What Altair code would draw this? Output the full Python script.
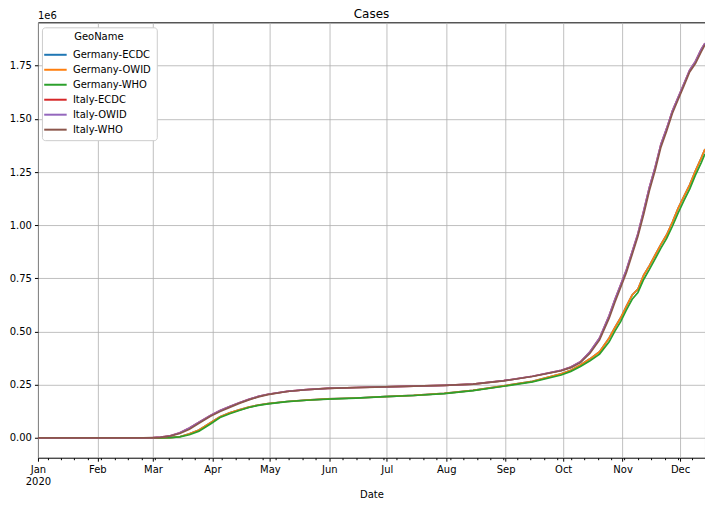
import altair as alt
import pandas as pd

dates = ["2020-01-01", "2020-01-31", "2020-02-15", "2020-02-25", "2020-03-01", "2020-03-05",
         "2020-03-10", "2020-03-15", "2020-03-20", "2020-03-25", "2020-03-31", "2020-04-05",
         "2020-04-10", "2020-04-15", "2020-04-20", "2020-04-25", "2020-04-30", "2020-05-10",
         "2020-05-20", "2020-05-31", "2020-06-15", "2020-06-30", "2020-07-15", "2020-07-31",
         "2020-08-15", "2020-08-31", "2020-09-15", "2020-09-30", "2020-10-05", "2020-10-10",
         "2020-10-15", "2020-10-20", "2020-10-25", "2020-10-28", "2020-10-31", "2020-11-03",
         "2020-11-06", "2020-11-09", "2020-11-12", "2020-11-15", "2020-11-18", "2020-11-21",
         "2020-11-24", "2020-11-27", "2020-11-30", "2020-12-03", "2020-12-06", "2020-12-09",
         "2020-12-12", "2020-12-14"]

germany_ecdc = [0, 5, 16, 18, 130, 480, 1600, 5800, 20000, 37300, 72000, 100000,
                118000, 132000, 145000, 155000, 161500, 171300, 177800, 183300, 187800, 194700,
                200200, 209700, 224000, 244800, 266000, 302000, 318000, 343000, 372000, 405000,
                470000, 519000, 565000, 620000, 672000, 700000, 765000, 810000, 860000, 910000,
                955000, 1015000, 1080000, 1135000, 1190000, 1255000, 1315000, 1358000]
germany_owid = [0, 5, 16, 18, 130, 480, 1600, 5800, 20000, 37300, 72000, 100000,
                118000, 132000, 145000, 155000, 161500, 171300, 177800, 183300, 187800, 194700,
                200200, 209700, 224000, 244800, 266000, 302000, 318000, 343000, 372000, 405000,
                470000, 519000, 565000, 620000, 672000, 700000, 765000, 810000, 860000, 910000,
                955000, 1015000, 1080000, 1135000, 1190000, 1255000, 1315000, 1358000]
germany_who = [0, 5, 16, 16, 117, 262, 1200, 4800, 15300, 32000, 66000, 96000,
               114000, 129000, 143000, 153000, 160000, 170500, 177200, 182800, 187400, 194200,
               199700, 208700, 222800, 243000, 263500, 296000, 313000, 336000, 363000, 394000,
               452000, 502000, 547000, 602000, 652000, 684000, 745000, 792000, 842000, 892000,
               938000, 995000, 1058000, 1115000, 1170000, 1235000, 1293000, 1336000]
italy_ecdc = [0, 2, 3, 322, 1694, 3858, 10149, 24747, 47021, 74386, 105792, 128948,
              147577, 165155, 181228, 195351, 205463, 219070, 227364, 232997, 237290, 240578,
              243506, 247537, 253438, 269214, 290000, 318000, 333000, 358000, 405000, 470000,
              575000, 650000, 720000, 790000, 875000, 960373, 1066401, 1178529, 1272352, 1380531,
              1455022, 1538217, 1601554, 1664829, 1728878, 1770149, 1825775, 1855737]
italy_owid = [0, 2, 3, 322, 1694, 3858, 10149, 24747, 47021, 74386, 105792, 128948,
              147577, 165155, 181228, 195351, 205463, 219070, 227364, 232997, 237290, 240578,
              243506, 247537, 253438, 269214, 290000, 318000, 333000, 358000, 405000, 470000,
              575000, 650000, 720000, 790000, 875000, 960373, 1066401, 1178529, 1272352, 1380531,
              1455022, 1538217, 1601554, 1664829, 1728878, 1770149, 1825775, 1855737]
italy_who = [0, 2, 3, 229, 1128, 3089, 9172, 21157, 41035, 69176, 101739, 124632,
             143626, 162488, 178972, 192994, 203591, 218268, 226699, 232664, 237000, 240310,
             243230, 247158, 252800, 268200, 288700, 316000, 330500, 354000, 398000, 461000,
             563000, 638000, 708000, 778000, 862000, 948000, 1050000, 1163000, 1258000, 1367000,
             1443000, 1526000, 1591000, 1655000, 1720000, 1760000, 1815000, 1848000]

series_names = ["Germany-ECDC", "Germany-OWID", "Germany-WHO", "Italy-ECDC", "Italy-OWID", "Italy-WHO"]
series_values = [germany_ecdc, germany_owid, germany_who, italy_ecdc, italy_owid, italy_who]
colors = ["#1f77b4", "#ff7f0e", "#2ca02c", "#d62728", "#9467bd", "#8c564b"]
y_ticks = [0, 0.25, 0.5, 0.75, 1.0, 1.25, 1.5, 1.75]

rows = []
for order, (name, vals) in enumerate(zip(series_names, series_values)):
    for d, v in zip(dates, vals):
        rows.append({"Date": d, "GeoName": name, "Cases": v / 1e6, "order": order})
df = pd.DataFrame(rows)

def ms(s):
    return int(pd.Timestamp(s, tz="UTC").value // 10**6)

month_starts = [f"2020-{m:02d}-01" for m in range(1, 13)]
mondays = [d.strftime("%Y-%m-%d") for d in pd.date_range("2020-01-06", "2020-12-14", freq="7D")]
tick_vals = sorted(set(ms(s) for s in month_starts + mondays))

FONT = "DejaVu Sans"
W, H = 668, 436

x_enc = alt.X(
    "Date:T",
    scale=alt.Scale(type="utc", domain=[ms("2020-01-01"), ms("2020-12-14")], nice=False),
    axis=alt.Axis(
        values=tick_vals,
        labelExpr="utcdate(datum.value) != 1 ? '' : (utcmonth(datum.value) == 0 ? ['Jan', '2020'] : utcFormat(datum.value, '%b'))",
        labelOverlap=False,
        labelFlush=False,
        labelBound=False,
        tickSize={"condition": {"test": "utcdate(datum.value) == 1", "value": 3.5}, "value": 2},
        gridOpacity={"condition": {"test": "utcdate(datum.value) == 1", "value": 1}, "value": 0},
        title="Date",
        titlePadding=3,
    ),
)

lines = alt.Chart(df).mark_line(strokeWidth=1.7, clip=True).encode(
    x=x_enc,
    y=alt.Y(
        "Cases:Q",
        scale=alt.Scale(domain=[-0.0928, 1.9535], nice=False, zero=False),
        axis=alt.Axis(values=y_ticks, format=".2f", title=None, tickSize=3.5),
    ),
    color=alt.Color(
        "GeoName:N",
        scale=alt.Scale(domain=series_names, range=colors),
        legend=alt.Legend(
            title="GeoName",
            orient="none",
            legendX=4,
            legendY=5,
            symbolType="M-1.5,0H1.5",
            symbolStrokeWidth=2,
            symbolSize=225,
            labelFontSize=10,
            titleFontSize=10,
            titleFontWeight="normal",
            titleAnchor="middle",
            labelOffset=9,
            rowPadding=1,
            padding=5,
            fillColor="white",
            strokeColor="#cccccc",
            cornerRadius=3,
            titlePadding=4,
        ),
    ),
    order="order:Q",
    detail="GeoName:N",
)

texts = pd.DataFrame({"t": ["1e6"]})
offset_text = alt.Chart(texts).mark_text(
    align="left", baseline="alphabetic", fontSize=10, font=FONT, color="black"
).encode(x=alt.value(0), y=alt.value(-3), text="t:N")

title_df = pd.DataFrame({"t": ["Cases"]})
title_text = alt.Chart(title_df).mark_text(
    align="center", baseline="alphabetic", fontSize=12, font=FONT, color="black"
).encode(x=alt.value(W / 2), y=alt.value(-4), text="t:N")

chart = alt.layer(lines, offset_text, title_text).properties(
    width=W,
    height=H,
    autosize=alt.AutoSizeParams(type="none"),
    padding={"left": 30, "top": 14, "right": 0, "bottom": 41},
).configure_view(stroke="black", strokeWidth=1).configure_axis(
    labelFont=FONT, titleFont=FONT, labelFontSize=10, titleFontSize=10, labelColor="black",
    titleColor="black", titleFontWeight="normal", tickColor="black", domain=False,
    gridColor="#b0b0b0", gridWidth=0.8, labelPadding=3,
).configure_legend(labelFont=FONT, titleFont=FONT, labelColor="black", titleColor="black")

chart.save("out.html", embed_options={"renderer": "svg", "actions": False})
